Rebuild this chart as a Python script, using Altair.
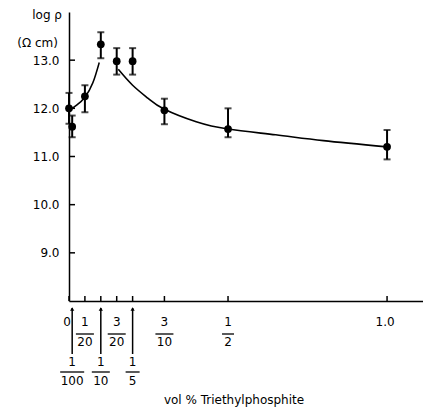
import altair as alt
import pandas as pd

# measured points
x_pts = [0, 0.01, 0.05, 0.1, 0.15, 0.2, 0.3, 0.5, 1.0]
y_pts = [12.0, 11.62, 12.25, 13.33, 12.98, 12.98, 11.96, 11.57, 11.2]
y_hi = [12.32, 11.85, 12.48, 13.58, 13.25, 13.25, 12.2, 12.0, 11.55]
y_lo = [11.68, 11.4, 11.92, 13.04, 12.7, 12.7, 11.67, 11.4, 10.94]

# fitted curves
left_x = [0, 0.025, 0.05, 0.075, 0.095]
left_y = [11.95, 12.07, 12.23, 12.53, 12.95]
right_x = [0.155, 0.2, 0.25, 0.3, 0.4, 0.5, 0.65, 0.8, 1.0]
right_y = [12.81, 12.48, 12.2, 11.98, 11.72, 11.57, 11.45, 11.33, 11.2]

# axis ticks
x_ticks = [0, 0.05, 0.1, 0.15, 0.2, 0.3, 0.5, 1.0]
y_ticks = [9, 10, 11, 12, 13]

# x tick labels
top_frac_x = [0.05, 0.15, 0.3, 0.5]
top_frac_num = ["1", "3", "3", "1"]
top_frac_den = ["20", "20", "10", "2"]
bot_frac_x = [0.01, 0.1, 0.2]
bot_frac_num = ["1", "1", "1"]
bot_frac_den = ["100", "10", "5"]
plain_x = [0, 1.0]
plain_lab = ["0", "1.0"]
leader_x = [0.01, 0.1, 0.2]

W, H = 354, 289
FONT = "DejaVu Sans"
FS = 12

xs = alt.Scale(domain=[0, 1.113], nice=False, zero=False)
ys = alt.Scale(domain=[8, 14], nice=False, zero=False)

pts = pd.DataFrame({"x": x_pts, "y": y_pts, "hi": y_hi, "lo": y_lo})
left = pd.DataFrame({"x": left_x, "y": left_y})
right = pd.DataFrame({"x": right_x, "y": right_y})
xt = pd.DataFrame({"x": x_ticks})
yt = pd.DataFrame({"y": y_ticks})
top = pd.DataFrame({"x": top_frac_x, "num": top_frac_num, "den": top_frac_den})
bot = pd.DataFrame({"x": bot_frac_x, "num": bot_frac_num, "den": bot_frac_den})
plain = pd.DataFrame({"x": plain_x, "lab": plain_lab})
lead = pd.DataFrame({"x": leader_x})

X_AX = alt.Axis(labels=False, ticks=False, grid=False, title=None,
                domainColor="black", domainWidth=1.5)
Y_AX = alt.Axis(values=y_ticks, format=".1f", ticks=False, grid=False,
                title=None, domainColor="black", domainWidth=1.5,
                labelFont=FONT, labelFontSize=FS, labelColor="black",
                labelPadding=10)

def qx(f="x"):
    return alt.X(f"{f}:Q", scale=xs, axis=X_AX)

def qy(f="y"):
    return alt.Y(f"{f}:Q", scale=ys, axis=Y_AX)

base_axes = alt.Chart(pts).mark_point(opacity=0).encode(x=qx(), y=qy())

curve_l = alt.Chart(left).mark_line(color="black", strokeWidth=1.6, interpolate="natural").encode(
    x=qx(), y=qy())
curve_r = alt.Chart(right).mark_line(color="black", strokeWidth=1.6, interpolate="natural").encode(
    x=qx(), y=qy())

err = alt.Chart(pts).mark_rule(color="black", strokeWidth=2).encode(
    x=qx(), y=qy("lo"), y2="hi:Q")
cap_hi = alt.Chart(pts).mark_tick(color="black", orient="horizontal", size=7, thickness=2).encode(
    x=qx(), y=qy("hi"))
cap_lo = alt.Chart(pts).mark_tick(color="black", orient="horizontal", size=7, thickness=2).encode(
    x=qx(), y=qy("lo"))
dots = alt.Chart(pts).mark_circle(color="black", size=60, opacity=1).encode(
    x=qx(), y=qy())

xtick = alt.Chart(xt).mark_rule(color="black", strokeWidth=1.5).encode(
    x=qx(), y=alt.value(H), y2=alt.value(H - 5))
ytick = alt.Chart(yt).mark_rule(color="black", strokeWidth=1.5).encode(
    y=qy(), x=alt.value(0), x2=alt.value(6))

def txt(df, field, ypix, dx=0):
    return alt.Chart(df).mark_text(font=FONT, fontSize=FS, color="black", baseline="middle",
                                   align="center", dx=dx).encode(
        x=qx(), y=alt.value(ypix), text=f"{field}:N")

def bars(df, ypix, half):
    return alt.Chart(df).mark_rule(color="black", strokeWidth=1.3, xOffset=-half, x2Offset=half).encode(
        x=qx(), x2="x:Q", y=alt.value(ypix))

top_num = txt(top, "num", 322 - 12)
top_den = txt(top, "den", 342 - 12)
bot_num = txt(bot, "num", 362 - 12)
bot_den = txt(bot, "den", 381 - 12)
plain_t = txt(plain, "lab", 322 - 12, dx=-2)

top2 = top[top["den"].str.len() == 2]
top1 = top[top["den"].str.len() == 1]
bars_t2 = bars(top2, 334 - 12, 9)
bars_t1 = bars(top1, 334 - 12, 6)
bot3 = bot[bot["den"].str.len() == 3]
bot2 = bot[bot["den"].str.len() == 2]
bot1 = bot[bot["den"].str.len() == 1]
bars_b3 = bars(bot3, 372 - 12, 12)
bars_b2 = bars(bot2, 372 - 12, 9)
bars_b1 = bars(bot1, 372 - 12, 7)

leaders = alt.Chart(lead).mark_rule(color="black", strokeWidth=1.5).encode(
    x=qx(), y=alt.value(308 - 12), y2=alt.value(354 - 12))
arrows = alt.Chart(lead).mark_point(shape="triangle-up", filled=True, color="black", size=18, opacity=1).encode(
    x=qx(), y=alt.value(309 - 12))

ytitle1 = alt.Chart(pd.DataFrame({"t": ["log ρ"]})).mark_text(
    font=FONT, fontSize=FS, color="black", align="right", baseline="middle").encode(
    x=alt.value(-7), y=alt.value(3), text="t:N")
ytitle2 = alt.Chart(pd.DataFrame({"t": ["(Ω cm)"]})).mark_text(
    font=FONT, fontSize=FS, color="black", align="right", baseline="middle").encode(
    x=alt.value(-11), y=alt.value(31), text="t:N")
xtitle = alt.Chart(pd.DataFrame({"t": ["vol % Triethylphosphite"]})).mark_text(
    font=FONT, fontSize=FS, color="black", align="center", baseline="middle").encode(
    x=alt.value(234 - 69), y=alt.value(400 - 12), text="t:N")

chart = alt.layer(
    base_axes, curve_l, curve_r, err, cap_hi, cap_lo, dots, xtick, ytick,
    top_num, top_den, bot_num, bot_den, plain_t,
    bars_t2, bars_t1, bars_b3, bars_b2, bars_b1,
    leaders, arrows, ytitle1, ytitle2, xtitle,
).properties(
    width=W, height=H,
    background="white",
    autosize=alt.AutoSizeParams(type="none"),
    padding={"left": 61, "top": 4, "right": 0, "bottom": 110},
).configure_view(stroke=None).configure_axis(grid=False)

chart.save("out.html", embed_options={"renderer": "svg", "actions": False})
